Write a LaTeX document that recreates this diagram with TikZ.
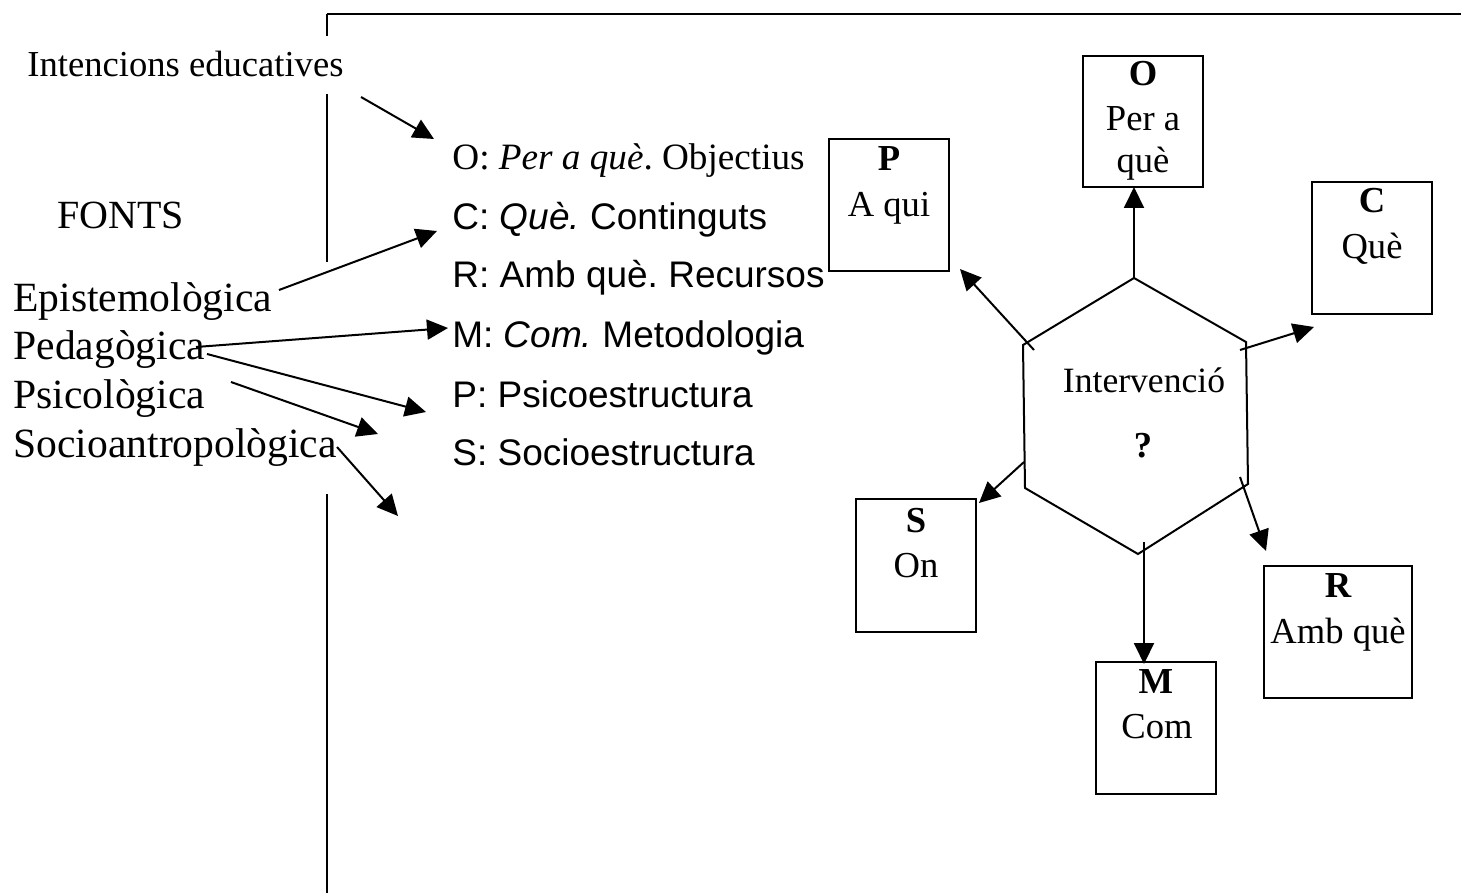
\documentclass[tikz,border=0pt]{standalone}
\usepackage{fontspec}
\setmainfont{Liberation Serif}
\setsansfont{Liberation Sans}
\usetikzlibrary{arrows.meta}

\begin{document}
\frenchspacing
\begin{tikzpicture}[x=0.5pt,y=-0.5pt,
  frame/.style={line width=1pt},
  arr/.style={line width=1pt,-{Triangle[length=10.5pt,width=10pt]}},
  box/.style={draw,line width=1pt,minimum width=60pt,minimum height=66pt,inner sep=0pt},
  big/.style={font=\fontsize{20.8}{24}\selectfont,inner sep=0pt,anchor=base west},
  mid/.style={font=\fontsize{18.3}{21}\selectfont,inner sep=0pt,anchor=base west},
  list/.style={font=\sffamily\fontsize{18.5}{21}\selectfont,inner sep=0pt,anchor=base west},
  btitle/.style={font=\bfseries\fontsize{18.3}{21}\selectfont,inner sep=0pt,anchor=base},
  btext/.style={font=\fontsize{18.3}{21}\selectfont,inner sep=0pt,anchor=base}
]
\useasboundingbox (0,0) rectangle (1461,893);

% outer frame, broken where the left-hand labels sit
\draw[frame] (327,36) -- (327,14);
\draw[line width=1.4pt] (326.5,14) -- (1461,14);
\draw[frame] (327,94) -- (327,262);
\draw[frame] (327,494) -- (327,893);

% sources
\node[mid] (int) at (27,77) {Intencions educatives};
\node[big,font=\fontsize{20}{24}\selectfont] (fonts) at (57,228) {FONTS};
\node[big] (epi) at (13,312) {Epistemològica};
\node[big] (ped) at (13,359) {Pedagògica};
\node[big] (psi) at (13,408) {Psicològica};
\node[big] (soc) at (13,457) {Socioantropològica};

% curriculum elements
\node[mid,font=\fontsize{18.6}{21}\selectfont] (lO) at (452,170) {O: \textit{Per a què}. Objectius};
\node[list] (lC) at (452,230) {C: \textit{Què.} Continguts};
\node[list] (lR) at (452,287) {R: Amb què. Recursos};
\node[list] (lM) at (452,347) {M: \textit{Com.} Metodologia};
\node[list] (lP) at (452,407) {P: Psicoestructura};
\node[list] (lS) at (452,465) {S: Socioestructura};

% arrow ends on the left
\coordinate (i1) at (361,97);  \coordinate (i2) at (434,139);
\coordinate (e1) at (279,290); \coordinate (e2) at (437,231);
\coordinate (p1) at (196,347); \coordinate (p2) at (448,328);
\coordinate (p3) at (207,354); \coordinate (p4) at (426,412);
\coordinate (s1) at (231,382); \coordinate (s2) at (378,434);
\coordinate (q1) at (337,447); \coordinate (q2) at (398,516);

\draw[arr] (i1) -- (i2);
\draw[arr] (e1) -- (e2);
\draw[arr] (p1) -- (p2);
\draw[arr] (p3) -- (p4);
\draw[arr] (s1) -- (s2);
\draw[arr] (q1) -- (q2);

% central hexagon
\coordinate (h1) at (1134,278);
\coordinate (h2) at (1246,342);
\coordinate (h3) at (1248,484);
\coordinate (h4) at (1138,554);
\coordinate (h5) at (1025,488);
\coordinate (h6) at (1023,345);
\draw[line width=1pt] (h1) -- (h2) -- (h3) -- (h4) -- (h5) -- (h6) -- cycle;
\node[btext,font=\fontsize{17.8}{21}\selectfont] (hexT) at (1144,392) {Intervenció};
\node[btitle] (hexQ) at (1143,457) {?};

% surrounding boxes
\node[box] (bP) at (889,205) {};
\node[btitle] (bPl) at (889,171) {P};
\node[btext] (bPt) at (889,217) {A qui};

\node[box,minimum height=65.5pt] (bO) at (1143,121.5) {};
\node[btitle] (bOl) at (1143,86) {O};
\node[btext] (bOt) at (1143,131) {Per a};
\node[btext] (bOu) at (1143,173) {què};

\node[box] (bC) at (1372,248) {};
\node[btitle] (bCl) at (1372,213) {C};
\node[btext] (bCt) at (1372,258) {Què};

\node[box,minimum height=66.5pt] (bS) at (916,565.5) {};
\node[btitle] (bSl) at (916,532) {S};
\node[btext] (bSt) at (916,577) {On};

\node[box] (bM) at (1156,728) {};
\node[btitle] (bMl) at (1156,693) {M};
\node[btext] (bMt) at (1157,738) {Com};

\node[box,minimum width=74pt] (bR) at (1338,632) {};
\node[btitle] (bRl) at (1338,597) {R};
\node[btext] (bRt) at (1338,643) {Amb què};

% arrows from the hexagon
\coordinate (oT) at (1134,187);
\coordinate (pS) at (1034,350); \coordinate (pT) at (960,269);
\coordinate (cS) at (1240,350); \coordinate (cT) at (1314,327);
\coordinate (sS) at (1024,462); \coordinate (sT) at (979,503);
\coordinate (rS) at (1240,477); \coordinate (rT) at (1266,551);
\coordinate (mS) at (1144,542); \coordinate (mT) at (1144,664);

\draw[arr] (h1) -- (oT);
\draw[arr] (pS) -- (pT);
\draw[arr] (cS) -- (cT);
\draw[arr] (sS) -- (sT);
\draw[arr] (rS) -- (rT);
\draw[arr] (mS) -- (mT);
\end{tikzpicture}
\end{document}
